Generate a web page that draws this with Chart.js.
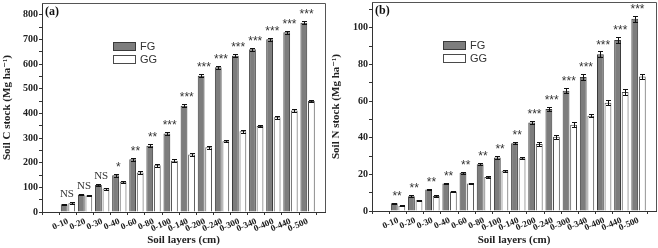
<!DOCTYPE html>
<html>
<head>
<meta charset="utf-8">
<script src="https://cdn.jsdelivr.net/npm/chart.js@4.4.1/dist/chart.umd.min.js"></script>
<style>
    html, body { margin: 0; padding: 0; background: #fff; }
    #wrap { display: flex; width: 658px; height: 248px; }
    .panel { position: relative; width: 329px; height: 248px; }
</style>
</head>
<body>
<div id="wrap">
    <div class="panel"><canvas id="CarbonChart"></canvas></div>
    <div class="panel"><canvas id="NitrogenChart"></canvas></div>
</div>
<script>
const layers = ["0-10", "0-20", "0-30", "0-40", "0-60", "0-80", "0-100", "0-140", "0-200", "0-240", "0-300", "0-340", "0-400", "0-440", "0-500"];

const carbonFG = [31, 71, 110, 149, 214, 269, 319, 431, 553, 587, 634, 660, 701, 729, 768];
const carbonGG = [36, 67, 95, 123, 160, 190, 208, 233, 263, 287, 328, 349, 384, 412, 450];
const carbonErrFG = [3, 4, 4, 5, 6, 5, 6, 6, 5, 7, 6, 5, 6, 6, 7];
const carbonErrGG = [3, 3, 4, 4, 5, 6, 6, 5, 6, 5, 6, 6, 6, 6, 5];
const carbonSig = ["NS", "NS", "NS", "*", "**", "**", "***", "***", "***", "***", "***", "***", "***", "***", "***"];
const carbonTicks = [0, 50, 100, 150, 200, 250, 300, 350, 400, 450, 500, 550, 600, 650, 700, 750, 800];

const nitrogenFG = [4.2, 8.0, 11.7, 15.0, 20.8, 25.5, 29.2, 37.0, 48.3, 55.7, 65.6, 73.1, 85.5, 93.3, 104.8];
const nitrogenGG = [2.8, 5.8, 8.2, 10.7, 15.0, 18.5, 22.0, 28.8, 36.5, 40.5, 47.0, 52.0, 59.0, 64.9, 73.4];
const nitrogenErrFG = [0.4, 0.5, 0.5, 0.5, 0.6, 0.6, 0.6, 0.7, 0.9, 1.2, 1.3, 1.4, 1.5, 1.5, 1.6];
const nitrogenErrGG = [0.3, 0.4, 0.4, 0.4, 0.5, 0.5, 0.5, 0.6, 0.9, 1.2, 1.3, 1.0, 1.3, 1.4, 1.2];
const nitrogenSig = ["**", "**", "**", "**", "**", "**", "**", "**", "***", "***", "***", "***", "***", "***", "***"];
const nitrogenTicks = [0, 10, 20, 30, 40, 50, 60, 70, 80, 90, 100, 110];

Chart.defaults.font.family = "'Liberation Serif', 'DejaVu Serif', serif";
Chart.defaults.color = "#222";

// error bars, significance marks, frame, legend and panel letter
const extras = {
    id: "extras",
    afterDatasetsDraw(chart, args, opts) {
        const { ctx, chartArea: a, scales: { x, y } } = chart;
        ctx.save();

        // error bars
        ctx.strokeStyle = "#111";
        ctx.lineWidth = 1;
        chart.data.datasets.forEach((ds, di) => {
            const meta = chart.getDatasetMeta(di);
            meta.data.forEach((bar, i) => {
                const v = ds.data[i].y;
                const e = ds.err[i];
                const yt = Math.round(y.getPixelForValue(v + e)) + 0.5;
                const yb = Math.round(y.getPixelForValue(v - e)) + 0.5;
                const cx = Math.round(bar.x) + 0.5;
                const hw = 2.5;
                ctx.beginPath();
                ctx.moveTo(cx, yt); ctx.lineTo(cx, yb);
                ctx.moveTo(cx - hw, yt); ctx.lineTo(cx + hw, yt);
                ctx.moveTo(cx - hw, yb); ctx.lineTo(cx + hw, yb);
                ctx.stroke();
            });
        });

        // significance labels
        const d0 = chart.data.datasets[0], d1 = chart.data.datasets[1];
        ctx.fillStyle = "#333";
        ctx.textAlign = "center";
        ctx.textBaseline = "alphabetic";
        opts.sig.forEach((s, i) => {
            const top = Math.max(d0.data[i].y + d0.err[i], d1.data[i].y + d1.err[i]);
            const py = y.getPixelForValue(top);
            const px = x.getPixelForValue(i + 1) - 1;
            if (s === "NS") {
                ctx.font = "11px 'Liberation Serif'";
                ctx.fillText(s, px, py - 5);
            } else {
                ctx.font = "12px 'Liberation Sans'";
                ctx.fillText(s, px, py - 3);
            }
        });

        // frame top and right
        ctx.strokeStyle = "#555";
        ctx.beginPath();
        ctx.moveTo(a.left, Math.round(a.top) + 0.5);
        ctx.lineTo(Math.round(a.right) + 0.5, Math.round(a.top) + 0.5);
        ctx.lineTo(Math.round(a.right) + 0.5, a.bottom);
        ctx.stroke();

        // legend
        const lx = a.left + 71, ly = a.top + 39;
        chart.data.datasets.forEach((ds, di) => {
            const by = ly + di * 13;
            ctx.fillStyle = ds.backgroundColor;
            ctx.fillRect(lx, by, 22, 8);
            ctx.strokeStyle = ds.borderColor;
            ctx.strokeRect(lx + 0.5, by + 0.5, 22, 8);
            ctx.fillStyle = "#333";
            ctx.font = "11px 'Liberation Sans'";
            ctx.textAlign = "left";
            ctx.textBaseline = "middle";
            ctx.fillText(ds.label, lx + 27, by + 5);
        });

        // panel letter
        ctx.fillStyle = "#111";
        ctx.font = "bold 12px 'Liberation Serif'";
        ctx.textAlign = "left";
        ctx.textBaseline = "top";
        ctx.fillText(opts.letter, a.left + 3, a.top + 3);

        ctx.restore();
    },
};

function StockChart(id, fg, gg, errFG, errGG, sig, letter, yTitle, yMax, yTicks, yLabelStep, axisWidth, axisHeight, padTop, padRight) {
    const ctx = document.getElementById(id);

    new Chart(ctx, {
        type: "bar",
        data: {
            datasets: [
                {
                    label: "FG",
                    data: fg.map((v, i) => ({ x: i + 1, y: v })),
                    err: errFG,
                    backgroundColor: "#7d7d7d",
                    borderColor: "#3a3a3a",
                    borderWidth: 1,
                    categoryPercentage: 0.88,
                    barPercentage: 0.9,
                },
                {
                    label: "GG",
                    data: gg.map((v, i) => ({ x: i + 1, y: v })),
                    err: errGG,
                    backgroundColor: "#ffffff",
                    borderColor: "#4a4a4a",
                    borderWidth: 1,
                    categoryPercentage: 0.88,
                    barPercentage: 0.9,
                },
            ],
        },
        options: {
            responsive: true,
            maintainAspectRatio: false,
            animation: false,
            layout: {
                padding: { top: padTop, right: padRight, left: 0, bottom: 0 },
            },
            plugins: {
                legend: { display: false },
                tooltip: { enabled: false },
                extras: { sig: sig, letter: letter },
            },
            scales: {
                x: {
                    type: "linear",
                    min: 0,
                    max: 15.5,
                    grid: {
                        drawOnChartArea: false,
                        tickLength: 3,
                        color: "#333",
                    },
                    border: { color: "#333", width: 1 },
                    ticks: {
                        stepSize: 1,
                        includeBounds: false,
                        autoSkip: false,
                        minRotation: 24,
                        maxRotation: 24,
                        padding: 1,
                        color: "#222",
                        font: { size: 9, weight: "bold" },
                        callback: (v) => layers[v - 1] || "",
                    },
                    title: {
                        display: true,
                        text: "Soil layers (cm)",
                        color: "#222",
                        font: { size: 11, weight: "bold" },
                        padding: { top: 0, bottom: 1 },
                    },
                    afterFit: (s) => { s.height = axisHeight; s.paddingLeft = 0; s.paddingRight = 0; },
                },
                y: {
                    min: 0,
                    max: yMax,
                    grid: {
                        drawOnChartArea: false,
                        tickLength: 3,
                        color: "#333",
                    },
                    border: { color: "#333", width: 1 },
                    afterBuildTicks: (s) => { s.ticks = yTicks.map((v) => ({ value: v })); },
                    ticks: {
                        autoSkip: false,
                        padding: 1,
                        color: "#222",
                        font: { size: 10, weight: "bold" },
                        callback: (v) => (v % yLabelStep === 0 ? v : ""),
                    },
                    title: {
                        display: true,
                        text: yTitle,
                        color: "#222",
                        font: { size: 11, weight: "bold" },
                        padding: { top: 1, bottom: 0 },
                    },
                    afterFit: (s) => { s.width = axisWidth; s.paddingTop = 0; s.paddingBottom = 0; },
                },
            },
        },
        plugins: [extras],
    });
}

StockChart("CarbonChart", carbonFG, carbonGG, carbonErrFG, carbonErrGG, carbonSig, "(a)",
    "Soil C stock (Mg ha\u207B\u00B9)", 848, carbonTicks, 100, 42, 36, 3, 4);
StockChart("NitrogenChart", nitrogenFG, nitrogenGG, nitrogenErrFG, nitrogenErrGG, nitrogenSig, "(b)",
    "Soil N stock (Mg ha\u207B\u00B9)", 114, nitrogenTicks, 20, 43, 37, 2, 2);
</script>
</body>
</html>
